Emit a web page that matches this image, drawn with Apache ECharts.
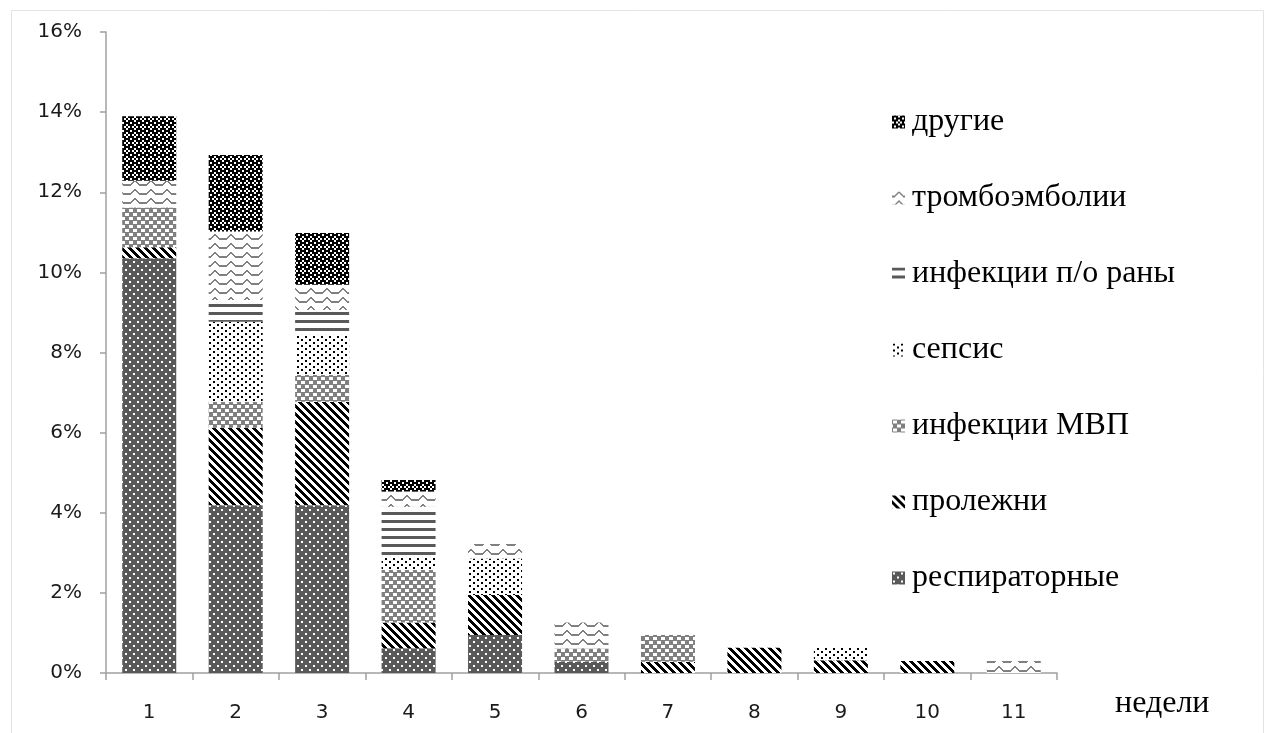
<!DOCTYPE html>
<html>
<head>
<meta charset="utf-8">
<script src="https://cdn.jsdelivr.net/npm/echarts@6/dist/echarts.min.js"></script>
<style>
  html, body { margin: 0; padding: 0; background: #fff; }
  #chart { width: 1268px; height: 733px; }
</style>
</head>
<body>
<div id="chart"></div>
<script>
// Weeks after admission and complication rates (% of patients)
const weeks = ['1', '2', '3', '4', '5', '6', '7', '8', '9', '10', '11'];
const respiratory = [10.35, 4.19, 4.19, 0.62, 0.95, 0.28, 0, 0, 0, 0, 0];
const bedsores    = [0.28, 1.93, 2.58, 0.64, 1.00, 0, 0.28, 0.63, 0.32, 0.30, 0];
const uti         = [0.99, 0.65, 0.67, 1.31, 0, 0.33, 0.67, 0, 0, 0, 0];
const sepsis      = [0, 2.00, 1.00, 0.33, 0.91, 0, 0, 0, 0.31, 0, 0];
const woundInf    = [0, 0.54, 0.62, 1.25, 0, 0, 0, 0, 0, 0, 0];
const thrombo     = [0.67, 1.71, 0.63, 0.38, 0.36, 0.65, 0, 0, 0, 0, 0.30];
const other       = [1.61, 1.91, 1.29, 0.29, 0, 0, 0, 0, 0, 0, 0];
const yTicks = [0, 2, 4, 6, 8, 10, 12, 14, 16];

// Pixel-art fill patterns (one character = one cell of `scale` pixels)
function pattern(rows, palette, scale) {
  scale = scale || 1;
  const c = document.createElement('canvas');
  c.width = rows[0].length * scale;
  c.height = rows.length * scale;
  const ctx = c.getContext('2d');
  rows.forEach((row, y) => {
    for (let x = 0; x < row.length; x++) {
      ctx.fillStyle = palette[row[x]];
      ctx.fillRect(x * scale, y * scale, scale, scale);
    }
  });
  return { image: c, repeat: 'repeat' };
}
const pal = { B: '#000000', W: '#ffffff', G: '#595959', L: '#808080' };

const fills = {
  respiratory: pattern([
    'GGGGGGGG',
    'GWWGGGGG',
    'GWWGGGGG',
    'GGGGGGGG',
    'GGGGGGGG',
    'GGGGGWWG',
    'GGGGGWWG',
    'GGGGGGGG'
  ], pal),
  bedsores: pattern([
    'BBBBWWWW',
    'WBBBBWWW',
    'WWBBBBWW',
    'WWWBBBBW',
    'WWWWBBBB',
    'BWWWWBBB',
    'BBWWWWBB',
    'BBBWWWWB'
  ], pal),
  uti: pattern([
    'LLLLLLLL',
    'LWWWWLLL',
    'LWWWWLLL',
    'LWWWWLLL',
    'LLLLLLLL',
    'WLLLLWWW',
    'WLLLLWWW',
    'WLLLLWWW'
  ], pal),
  sepsis: pattern([
    'WBBWWWWW',
    'WBBWWWWW',
    'WWWWWWWW',
    'WWWWWBBW',
    'WWWWWBBW',
    'WWWWWWWW'
  ], pal),
  wound: pattern([
    'GGGGGGGG',
    'GGGGGGGG',
    'GGGGGGGG',
    'WWWWWWWW',
    'WWWWWWWW',
    'WWWWWWWW',
    'WWWWWWWW',
    'WWWWWWWW'
  ], pal),
  thrombo: pattern([
    'WWWWWWLLWWWWWWWW',
    'WWWWWLLLLWWWWWWW',
    'WWWWLLWWLLWWWWWW',
    'WWWLLWWWWLLWWWWW',
    'LLLLWWWWWWLLLLLL',
    'LLLWWWWWWWWLLLLL',
    'WWWWWWWWWWWWWWWW',
    'WWWWWWWWWWWWWWWW',
    'WWWWWWWWWWWWWWWW'
  ], pal),
  other: pattern([
    'BBBW',
    'BWBB',
    'BBBW',
    'WBWB'
  ], pal, 2)
};

const seriesDefs = [
  { name: 'респираторные', data: respiratory, fill: fills.respiratory },
  { name: 'пролежни', data: bedsores, fill: fills.bedsores },
  { name: 'инфекции МВП', data: uti, fill: fills.uti },
  { name: 'сепсис', data: sepsis, fill: fills.sepsis },
  { name: 'инфекции п/о раны', data: woundInf, fill: fills.wound },
  { name: 'тромбоэмболии', data: thrombo, fill: fills.thrombo },
  { name: 'другие', data: other, fill: fills.other }
];

const chart = echarts.init(document.getElementById('chart'), null, { renderer: 'canvas' });
const axisGray = '#a0a0a0';
const serif = '"Liberation Serif", "Times New Roman", serif';
const sans = '"DejaVu Sans", sans-serif';

chart.setOption({
  animation: false,
  backgroundColor: '#ffffff',
  grid: { left: 106, right: 211, top: 32, bottom: 60, containLabel: false },
  legend: {
    orient: 'vertical',
    left: 887,
    top: 101,
    itemWidth: 13,
    itemHeight: 13,
    itemGap: 44,
    icon: 'rect',
    selectedMode: false,
    data: seriesDefs.map(s => s.name).reverse(),
    textStyle: { fontFamily: serif, fontSize: 32, color: '#000', lineHeight: 32, padding: [0, 0, 0, 2] }
  },
  xAxis: {
    type: 'category',
    data: weeks,
    axisLine: { lineStyle: { color: axisGray, width: 1.5 } },
    axisTick: { show: true, length: 7, alignWithLabel: false, lineStyle: { color: axisGray, width: 1.5 } },
    axisLabel: { margin: 30, fontFamily: sans, fontSize: 20, color: '#1a1a1a' }
  },
  yAxis: {
    type: 'value',
    min: yTicks[0],
    max: yTicks[yTicks.length - 1],
    interval: yTicks[1] - yTicks[0],
    splitLine: { show: false },
    axisLine: { show: true, lineStyle: { color: axisGray, width: 1.5 } },
    axisTick: { show: true, length: 6, lineStyle: { color: axisGray, width: 1.5 } },
    axisLabel: { margin: 24, fontFamily: sans, fontSize: 20, color: '#1a1a1a', formatter: '{value}%' }
  },
  graphic: [
    {
      type: 'rect',
      left: 9, top: 8,
      shape: { width: 1252, height: 760 },
      style: { fill: 'none', stroke: '#e3e3e3', lineWidth: 1 },
      silent: true
    },
    {
      type: 'text',
      left: 1115, top: 688,
      style: { text: 'недели', font: '32px ' + serif, fill: '#000' }
    }
  ],
  series: seriesDefs.map(s => ({
    type: 'bar',
    name: s.name,
    stack: 'total',
    barWidth: 54,
    data: s.data,
    itemStyle: { color: s.fill, borderWidth: 0 }
  }))
});
</script>
</body>
</html>
